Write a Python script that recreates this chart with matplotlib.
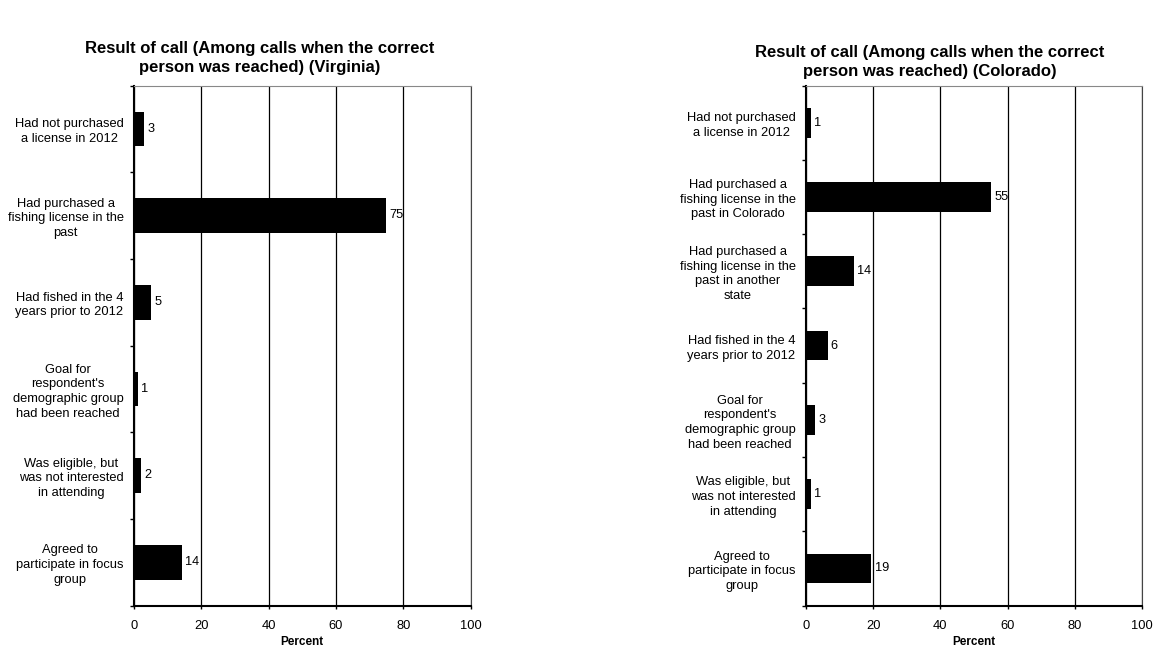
import matplotlib
matplotlib.use('Agg')
import matplotlib.pyplot as plt
import numpy as np

plt.rcParams['font.family'] = ['Liberation Sans', 'DejaVu Sans']

# Virginia
va_labels = [
    'Had not purchased\na license in 2012',
    'Had purchased a\nfishing license in the\npast',
    'Had fished in the 4\nyears prior to 2012',
    "Goal for\nrespondent's\ndemographic group\nhad been reached",
    'Was eligible, but\nwas not interested\nin attending',
    'Agreed to\nparticipate in focus\ngroup',
]
va_values = [3.0, 74.9, 5.1, 1.2, 2.0, 14.2]

# Colorado
co_labels = [
    'Had not purchased\na license in 2012',
    'Had purchased a\nfishing license in the\npast in Colorado',
    'Had purchased a\nfishing license in the\npast in another\nstate',
    'Had fished in the 4\nyears prior to 2012',
    "Goal for\nrespondent's\ndemographic group\nhad been reached",
    'Was eligible, but\nwas not interested\nin attending',
    'Agreed to\nparticipate in focus\ngroup',
]
co_values = [1.4, 55.2, 14.2, 6.4, 2.7, 1.4, 19.4]

title_va = 'Result of call (Among calls when the correct\nperson was reached) (Virginia)'
title_co = 'Result of call (Among calls when the correct\nperson was reached) (Colorado)'

W, H = 1155, 653
fig = plt.figure(figsize=(W / 100, H / 100), dpi=100)


def panel(rect, labels, values):
    ax = fig.add_axes(rect)
    n = len(labels)
    y = np.arange(n)
    ax.barh(y, values, height=0.4, color='black', zorder=3)
    for yi, v in zip(y, values):
        ax.text(v + 1.0, yi, f'{round(v)}', va='center', ha='left', fontsize=9.2)
    ax.set_xlim(0, 100)
    ax.set_ylim(n - 0.5, -0.5)
    ax.set_xticks(range(0, 101, 20))
    ax.set_yticks(y)
    ax.set_yticklabels(labels, multialignment='center', fontsize=9.3, linespacing=1.3)
    ax.set_yticks(np.arange(n + 1) - 0.5, minor=True)
    ax.tick_params(axis='y', which='major', length=0, pad=7.5)
    ax.tick_params(axis='y', which='minor', length=3, width=1, direction='out')
    ax.tick_params(axis='x', length=2.2, width=1, direction='out', labelsize=9.3, pad=8)
    ax.xaxis.grid(True, color='black', linewidth=0.9, zorder=0)
    ax.spines['left'].set_linewidth(1.5)
    ax.spines['bottom'].set_linewidth(1.5)
    ax.spines['top'].set_color('#888888')
    ax.spines['right'].set_color('#444444')
    ax.set_xlabel('Percent', fontsize=8.5, fontweight='bold', labelpad=3)
    return ax


panel([134 / W, 1 - 605.5 / H, 336.5 / W, 520 / H], va_labels, va_values)
panel([806 / W, 1 - 605.5 / H, 336 / W, 520 / H], co_labels, co_values)

fig.text(260 / W, 1 - 58 / H, title_va, ha='center', va='center',
         fontsize=12, fontweight='bold', linespacing=1.3)
fig.text(930 / W, 1 - 62 / H, title_co, ha='center', va='center',
         fontsize=12, fontweight='bold', linespacing=1.3)

fig.savefig('out.png', dpi=100)
